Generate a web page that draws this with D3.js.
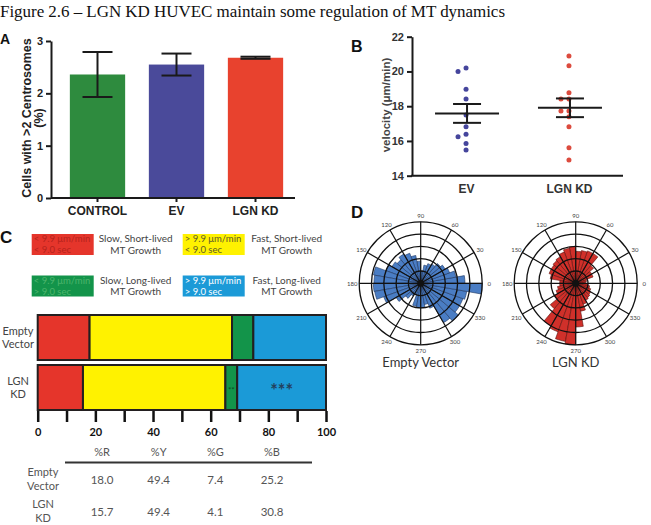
<!DOCTYPE html>
<html>
<head>
<meta charset="utf-8">
<script src="https://cdn.jsdelivr.net/npm/d3@7/dist/d3.min.js"></script>
<style>
  body { margin: 0; background: #fff; }
  svg { display: block; }
  .arial { font-family: "Liberation Sans", Arial, sans-serif; font-weight: bold; }
  .myr { font-family: Lato, "Open Sans", sans-serif; }
</style>
</head>
<body>
<svg id="fig" width="651" height="525"></svg>
<script>
// ---- data ----
const titleText = 'Figure 2.6 – LGN KD HUVEC maintain some regulation of MT dynamics';

// A: centrosome counts
const centroGroups = ['CONTROL', 'EV', 'LGN KD'];
const centroMean = [2.36, 2.55, 2.68];
const centroErr = [0.43, 0.21, 0.02];
const centroTicks = [0, 1, 2, 3];

// B: growth velocity (um/min)
const velGroups = ['EV', 'LGN KD'];
const evVelocity = [20.2, 20.0, 18.97, 18.41, 17.49, 16.82, 16.38, 16.24, 15.86, 15.48];
const kdVelocity = [20.89, 20.33, 18.78, 18.41, 18.41, 17.72, 17.72, 17.40, 16.82, 15.61, 14.90];
const velTicks = [14, 16, 18, 20, 22];

// C: MT growth classes
const mtClasses = ['R', 'Y', 'G', 'B'];
const classSpeed = ['< 9.9 μm/min', '> 9.9 μm/min', '< 9.9 μm/min', '> 9.9 μm/min'];
const classTime = ['< 9.0 sec', '< 9.0 sec', '> 9.0 sec', '> 9.0 sec'];
const className = ['Slow, Short-lived', 'Fast, Short-lived', 'Slow, Long-lived', 'Fast, Long-lived'];
const mtRows = ['Empty Vector', 'LGN KD'];
const evPct = [18.0, 49.4, 7.4, 25.2];
const kdPct = [15.7, 49.4, 4.1, 30.8];
const pctTicks = [0, 10, 20, 30, 40, 50, 60, 70, 80, 90, 100];

// D: growth direction roses, 10 degree bins from 0 deg counter-clockwise
const roseLabels = [0, 30, 60, 90, 120, 150, 180, 210, 240, 270, 300, 330];
const evRose = [7.2, 5.8, 5.0, 4.6, 4.2, 3.6, 3.4, 3.0, 2.0, 3.6, 4.6, 5.2,
                5.5, 5.0, 5.4, 6.0, 7.8, 7.6, 7.7, 7.6, 6.4, 4.6, 3.2, 2.4,
                2.0, 3.8, 4.0, 4.0, 3.5, 4.3, 7.4, 8.0, 7.3, 7.3, 7.6, 10.0];
const kdRose = [1.6, 1.8, 3.0, 3.0, 3.8, 5.6, 5.6, 5.4, 5.2, 6.0, 5.8, 5.4,
                5.0, 4.8, 4.6, 4.6, 4.2, 2.6, 2.6, 3.0, 3.4, 4.0, 5.4, 8.0,
                8.4, 9.6, 10.0, 7.1, 4.6, 3.6, 3.2, 3.0, 2.8, 2.6, 2.3, 2.0];

const svg = d3.select('#fig');
svg.append('rect').attr('width', 651).attr('height', 525).attr('fill', '#fff');

// title
svg.append('text')
  .attr('x', 0).attr('y', 17)
  .attr('textLength', 505).attr('lengthAdjust', 'spacing')
  .style('font-family', '"Liberation Serif", "Times New Roman", serif')
  .style('font-size', '17px')
  .attr('fill', '#111')
  .text(titleText);

// panel letters
const letters = [['A', 0, 44, 14], ['B', 351, 52, 16], ['C', 0, 243, 17], ['D', 351, 218, 17]];
letters.forEach(l => {
  svg.append('text').attr('class', 'arial').attr('x', l[1]).attr('y', l[2])
    .style('font-size', l[3] + 'px').attr('fill', '#111').text(l[0]);
});

// ---------------- A ----------------
(function panelA() {
  const colors = ['#2e8b3e', '#4a4a9a', '#e8422e'];
  const x = d3.scaleBand().domain(centroGroups).range([58, 295]).paddingInner(0.3).paddingOuter(0.15);
  const y = d3.scaleLinear().domain([0, 3]).range([198, 41]);
  const g = svg.append('g');

  g.selectAll('rect.bar').data(centroGroups).enter().append('rect')
    .attr('x', d => x(d)).attr('width', x.bandwidth())
    .attr('y', (d, i) => y(centroMean[i]))
    .attr('height', (d, i) => y(0) - y(centroMean[i]))
    .attr('fill', (d, i) => colors[i]);

  // error bars
  centroGroups.forEach((d, i) => {
    const cx = x(d) + x.bandwidth() / 2;
    const eg = g.append('g').attr('stroke', '#1a1a1a').attr('stroke-width', 2);
    eg.append('line').attr('x1', cx).attr('x2', cx)
      .attr('y1', y(centroMean[i] + centroErr[i])).attr('y2', y(centroMean[i] - centroErr[i]));
    [1, -1].forEach(s => {
      eg.append('line').attr('x1', cx - 15).attr('x2', cx + 15)
        .attr('y1', y(centroMean[i] + s * centroErr[i])).attr('y2', y(centroMean[i] + s * centroErr[i]));
    });
  });

  const ya = g.append('g').attr('transform', 'translate(51,0)')
    .call(d3.axisLeft(y).tickValues(centroTicks).tickSize(5).tickSizeOuter(0).tickFormat(d3.format('d')));
  ya.select('.domain').attr('stroke', '#1a1a1a').attr('stroke-width', 2);
  ya.selectAll('.tick line').attr('stroke', '#1a1a1a').attr('stroke-width', 2);
  ya.selectAll('text').attr('class', 'arial').style('font-size', '11px').attr('fill', '#222');

  const xa = g.append('g').attr('transform', `translate(0,${y(0)})`)
    .call(d3.axisBottom(x).tickSize(4).tickSizeOuter(0));
  xa.select('.domain').remove();
  xa.append('line').attr('x1', 51).attr('x2', 295).attr('stroke', '#1a1a1a').attr('stroke-width', 2);
  xa.selectAll('.tick line').attr('stroke', '#1a1a1a').attr('stroke-width', 2);
  xa.selectAll('text').attr('class', 'arial').style('font-size', '12px').attr('fill', '#222')
    .attr('y', 8).attr('dy', '0.71em');

  const lab = g.append('text').attr('class', 'arial').attr('transform', 'rotate(-90)')
    .attr('text-anchor', 'middle').style('font-size', '12.5px').attr('fill', '#222');
  lab.append('tspan').attr('x', -118).attr('y', 31).text('Cells with >2 Centrosomes');
  lab.append('tspan').attr('x', -118).attr('y', 43).text('(%)');
})();

// ---------------- B ----------------
(function panelB() {
  const colors = ['#45459c', '#dc4b3e'];
  const sets = [evVelocity, kdVelocity];
  const x = d3.scalePoint().domain(velGroups).range([412, 623]).padding(0.525);
  const y = d3.scaleLinear().domain([14, 22]).range([175.7, 36.7]);
  const g = svg.append('g');
  const r = 2.5;

  sets.forEach((vals, gi) => {
    // simple dodge so dots do not overlap
    const placed = [];
    const order = vals.map((v, i) => i).sort((a, b) => vals[b] - vals[a]);
    order.forEach(i => {
      const py = y(vals[i]);
      const cands = [0, -8, 8, -16, 16];
      let off = cands.find(o => placed.every(p => Math.hypot(p.dx - o, p.y - py) >= 2 * r + 0.5));
      if (off === undefined) off = 0;
      placed.push({ dx: off, y: py });
    });
    g.selectAll(null).data(placed).enter().append('circle')
      .attr('cx', d => x(velGroups[gi]) + d.dx).attr('cy', d => d.y)
      .attr('r', r).attr('fill', colors[gi]);

    const m = d3.mean(vals);
    const sem = d3.deviation(vals) / Math.sqrt(vals.length);
    const cx = x(velGroups[gi]) + 1;
    const lg = g.append('g').attr('stroke', '#1a1a1a').attr('stroke-width', 2);
    lg.append('line').attr('x1', cx - 32).attr('x2', cx + 32).attr('y1', y(m)).attr('y2', y(m));
    lg.append('line').attr('x1', cx).attr('x2', cx).attr('y1', y(m + sem)).attr('y2', y(m - sem));
    [1, -1].forEach(s => {
      lg.append('line').attr('x1', cx - 14).attr('x2', cx + 14)
        .attr('y1', y(m + s * sem)).attr('y2', y(m + s * sem));
    });
  });

  const ya = g.append('g').attr('transform', 'translate(412,0)')
    .call(d3.axisLeft(y).tickValues(velTicks).tickSize(5).tickSizeOuter(0));
  ya.select('.domain').attr('stroke', '#1a1a1a').attr('stroke-width', 2);
  ya.selectAll('.tick line').attr('stroke', '#1a1a1a').attr('stroke-width', 2);
  ya.selectAll('text').attr('class', 'arial').style('font-size', '11px').attr('fill', '#333');

  const xa = g.append('g').attr('transform', `translate(0,${y(14)})`)
    .call(d3.axisBottom(x).tickSize(0).tickSizeOuter(0));
  xa.select('.domain').remove();
  xa.append('line').attr('x1', 411).attr('x2', 623).attr('stroke', '#1a1a1a').attr('stroke-width', 2);
  xa.selectAll('text').attr('class', 'arial').style('font-size', '12px').attr('fill', '#333')
    .attr('y', 8.5).attr('dy', '0.71em');

  g.append('text').attr('class', 'arial').attr('transform', 'rotate(-90)')
    .attr('x', -105).attr('y', 390).attr('text-anchor', 'middle')
    .style('font-size', '11.5px').attr('fill', '#444').text('velocity (μm/min)');
})();

// ---------------- C ----------------
(function panelC() {
  const fills = { R: '#e5352b', Y: '#fff200', G: '#13944a', B: '#1b9ad7' };
  const inner = { R: '#b5231c', Y: '#5e5a2a', G: '#4cb56c', B: '#ffffff' };
  const g = svg.append('g').attr('class', 'myr');

  // legend
  const col = d3.scaleOrdinal().domain(mtClasses).range([31.7, 182.7, 31.7, 182.7]);
  const row = d3.scaleOrdinal().domain(mtClasses).range([234, 234, 275.5, 275.5]);
  mtClasses.forEach((c, i) => {
    const bx = col(c), by = row(c);
    g.append('rect').attr('x', bx).attr('y', by).attr('width', 62).attr('height', 21).attr('fill', fills[c]);
    const t = g.append('text').style('font-size', '9.5px').attr('fill', inner[c]);
    t.append('tspan').attr('x', bx + 2).attr('y', by + 8).text(classSpeed[i]);
    t.append('tspan').attr('x', bx + 2).attr('y', by + 19).text(classTime[i]);
    const d = g.append('text').style('font-size', '10px').attr('fill', '#444').attr('text-anchor', 'middle');
    d.append('tspan').attr('x', bx + 104).attr('y', by + 8).text(className[i]);
    d.append('tspan').attr('x', bx + 104).attr('y', by + 19.5).text('MT Growth');
  });

  // stacked bars
  const x = d3.scaleLinear().domain([0, 100]).range([37.7, 326]);
  const y = d3.scaleBand().domain(mtRows).range([315, 410]).paddingInner(0.1);
  const rows = [evPct, kdPct];
  rows.forEach((vals, ri) => {
    let acc = 0;
    vals.forEach((v, ci) => {
      g.append('rect')
        .attr('x', x(acc)).attr('width', x(acc + v) - x(acc))
        .attr('y', y(mtRows[ri])).attr('height', y.bandwidth())
        .attr('fill', fills[mtClasses[ci]])
        .attr('stroke', '#231f20').attr('stroke-width', 2);
      acc += v;
    });
  });
  // significance marks on the LGN KD row
  const kdY = y(mtRows[1]) + y.bandwidth() / 2;
  const gStart = kdPct[0] + kdPct[1];
  g.append('text').attr('x', x(gStart + kdPct[2] / 2)).attr('y', kdY + 5)
    .attr('text-anchor', 'middle').style('font-size', '8px').attr('fill', '#0c4a22').text('**');
  g.append('text').attr('x', x(gStart + kdPct[2] + kdPct[3] / 2)).attr('y', kdY + 9)
    .attr('text-anchor', 'middle').style('font-size', '18px').style('font-weight', 'bold')
    .attr('fill', '#23415e').text('***');

  // row labels
  mtRows.forEach(r => {
    const parts = r.split(' ');
    const t = g.append('text').attr('text-anchor', 'middle').style('font-size', '11px').attr('fill', '#444');
    const cy = y(r) + y.bandwidth() / 2;
    t.append('tspan').attr('x', 18).attr('y', cy - 2.5).text(parts[0]);
    t.append('tspan').attr('x', 18).attr('y', cy + 10).text(parts[1]);
  });

  const xa = g.append('g').attr('transform', 'translate(0,411)')
    .call(d3.axisBottom(x).tickValues(pctTicks).tickSize(11).tickPadding(6)
      .tickFormat(d => d % 20 === 0 ? d : ''));
  xa.select('.domain').remove();
  xa.selectAll('.tick line').attr('stroke', '#111').attr('stroke-width', 2.5);
  xa.selectAll('text').attr('class', 'myr').style('font-size', '11px').style('font-weight', 'bold')
    .attr('fill', '#111');

  // table
  const tx = d3.scalePoint().domain(mtClasses).range([102, 272]);
  const ty = d3.scaleOrdinal().domain(mtRows).range([484, 516]);
  mtClasses.forEach(c => {
    g.append('text').attr('x', tx(c)).attr('y', 456).attr('text-anchor', 'middle')
      .style('font-size', '11px').attr('fill', '#555').text('%' + c);
  });
  g.append('line').attr('x1', 65).attr('x2', 312).attr('y1', 462.5).attr('y2', 462.5)
    .attr('stroke', '#333').attr('stroke-width', 2);
  rows.forEach((vals, ri) => {
    const r = mtRows[ri];
    const parts = r.split(' ');
    const t = g.append('text').attr('text-anchor', 'middle').style('font-size', '11px').attr('fill', '#555');
    t.append('tspan').attr('x', 43).attr('y', ty(r) - 8).text(parts[0]);
    t.append('tspan').attr('x', 43).attr('y', ty(r) + 6).text(parts[1]);
    vals.forEach((v, ci) => {
      g.append('text').attr('x', tx(mtClasses[ci])).attr('y', ty(r)).attr('text-anchor', 'middle')
        .style('font-size', '11.5px').attr('fill', '#555').text(v.toFixed(1));
    });
  });
})();

// ---------------- D ----------------
(function panelD() {
  const R = 61.5;
  const cx = d3.scalePoint().domain(mtRows).range([420.7, 575.7]);
  const cy = 283.3;
  const rad = d3.scaleLinear().domain([0, 10]).range([0, R]);
  const roses = [evRose, kdRose];
  const fills = ['#4a7dc4', '#d0302a'];
  const edges = ['#1f3560', '#5a0f0c'];
  const arc = d3.arc();

  roses.forEach((vals, ri) => {
    const g = svg.append('g').attr('transform', `translate(${cx(mtRows[ri])},${cy})`);
    // wedges: math angle (ccw from east) -> d3 angle (cw from north)
    g.selectAll('path.wedge').data(vals).enter().append('path')
      .attr('d', (v, i) => arc({
        innerRadius: 0, outerRadius: rad(v),
        startAngle: Math.PI / 2 - (i + 1) * 10 * Math.PI / 180,
        endAngle: Math.PI / 2 - i * 10 * Math.PI / 180
      }))
      .attr('fill', fills[ri]).attr('stroke', edges[ri]).attr('stroke-width', 0.6);

    // grid on top
    rad.ticks(5).filter(t => t > 0).forEach(t => {
      g.append('circle').attr('r', rad(t)).attr('fill', 'none')
        .attr('stroke', '#111').attr('stroke-width', 1.3);
    });
    roseLabels.forEach(a => {
      const th = a * Math.PI / 180;
      g.append('line').attr('x1', 0).attr('y1', 0)
        .attr('x2', R * Math.cos(th)).attr('y2', -R * Math.sin(th))
        .attr('stroke', '#111').attr('stroke-width', 1.2);
      g.append('text').attr('class', 'myr')
        .attr('x', (R + 7) * Math.cos(th)).attr('y', -(R + 6) * Math.sin(th))
        .attr('text-anchor', 'middle').attr('dominant-baseline', 'central')
        .style('font-size', '6px').attr('fill', '#444').text(a);
    });
    g.append('circle').attr('r', 3.5).attr('fill', '#111');

    g.append('text').attr('class', 'myr').attr('x', 0).attr('y', R + 22.5)
      .attr('text-anchor', 'middle').style('font-size', '13px').attr('fill', '#333')
      .text(mtRows[ri]);
  });
})();
</script>
</body>
</html>
